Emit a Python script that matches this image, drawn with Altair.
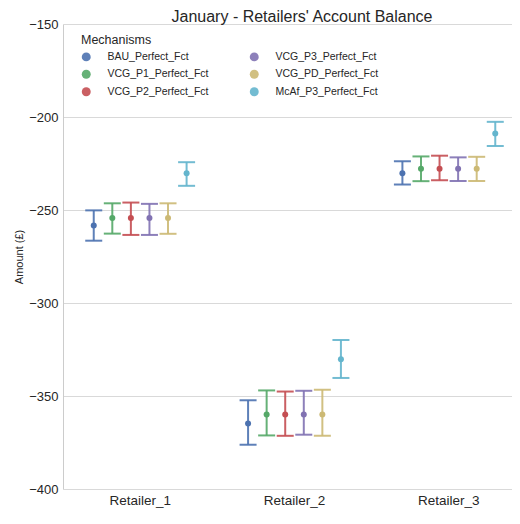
import altair as alt
import pandas as pd

retailers = ["Retailer_1", "Retailer_2", "Retailer_3"]
mechanisms = ["BAU_Perfect_Fct", "VCG_P1_Perfect_Fct", "VCG_P2_Perfect_Fct",
              "VCG_P3_Perfect_Fct", "VCG_PD_Perfect_Fct", "McAf_P3_Perfect_Fct"]
colors = ["#4C72B0", "#55A868", "#C44E52", "#8172B2", "#CCB974", "#64B5CD"]

mean_r1 = [-258.4, -254.3, -254.3, -254.3, -254.3, -230.2]
low_r1 = [-266.5, -262.7, -263.4, -263.4, -262.8, -237.0]
high_r1 = [-250.2, -246.4, -246.0, -246.7, -246.4, -224.3]

mean_r2 = [-364.8, -359.9, -359.9, -359.9, -359.9, -330.2]
low_r2 = [-376.2, -371.2, -371.4, -370.8, -371.4, -340.3]
high_r2 = [-352.3, -347.0, -347.6, -347.2, -346.7, -319.9]

mean_r3 = [-230.2, -227.8, -227.8, -227.8, -227.8, -208.9]
low_r3 = [-236.3, -234.5, -234.0, -234.4, -234.4, -215.6]
high_r3 = [-223.8, -221.2, -220.8, -221.7, -221.4, -202.6]

rows = []
for r, means, lows, highs in zip(retailers, [mean_r1, mean_r2, mean_r3],
                                 [low_r1, low_r2, low_r3], [high_r1, high_r2, high_r3]):
    for m, mu, lo, hi in zip(mechanisms, means, lows, highs):
        rows.append({"Retailer": r, "Mechanism": m, "mean": mu, "low": lo, "high": hi})
df = pd.DataFrame(rows)

x_enc = alt.X("Retailer:N", sort=retailers,
              scale=alt.Scale(paddingInner=0.278, paddingOuter=0.139, range=[0, 463]),
              axis=alt.Axis(title=None, labelAngle=0, ticks=False, labelFontSize=13.5,
                            labelPadding=4, domain=False, grid=False,
                            labelColor="#262626"))
xoff = alt.XOffset("Mechanism:N", sort=mechanisms,
                   scale=alt.Scale(domain=mechanisms, paddingInner=0, paddingOuter=0))
y_scale = alt.Scale(domain=[-400, -150], nice=False, zero=False)
y_axis = alt.Axis(title="Amount (£)", values=[-400, -350, -300, -250, -200, -150],
                  ticks=False, labelFontSize=13, labelPadding=5, titleFontSize=11,
                  titleFontWeight="normal", titlePadding=4, domainColor="#cccccc",
                  gridColor="#d9d9d9", labelColor="#262626", titleColor="#262626")
color_enc = alt.Color("Mechanism:N",
                      scale=alt.Scale(domain=mechanisms, range=colors),
                      legend=alt.Legend(title="Mechanisms", orient="none", legendX=18,
                                        legendY=10, columns=2, symbolType="circle",
                                        symbolSize=80, symbolStrokeWidth=0,
                                        labelFontSize=10.5, titleFontSize=12.5,
                                        titleFontWeight="normal", labelOffset=16,
                                        columnPadding=40, rowPadding=6.5,
                                        titlePadding=5, padding=0,
                                        labelColor="#262626", titleColor="#262626"))

base = alt.Chart(df).encode(x=x_enc, xOffset=xoff, color=color_enc)

rule = base.mark_rule(strokeWidth=2, opacity=0.9).encode(
    y=alt.Y("low:Q", scale=y_scale, axis=y_axis), y2="high:Q")
cap_lo = base.mark_tick(size=17, thickness=2, orient="horizontal", opacity=0.9).encode(
    y=alt.Y("low:Q", scale=y_scale))
cap_hi = base.mark_tick(size=17, thickness=2, orient="horizontal", opacity=0.9).encode(
    y=alt.Y("high:Q", scale=y_scale))
pts = base.mark_circle(size=36, opacity=1).encode(y=alt.Y("mean:Q", scale=y_scale))

chart = alt.layer(rule, cap_lo, cap_hi, pts).properties(
    width=504, height=502,
    autosize=alt.AutoSizeParams(type="fit", contains="padding"),
    padding={"left": 5, "top": 0, "right": 0, "bottom": 3},
    title=alt.TitleParams("January - Retailers' Account Balance", fontSize=16,
                          fontWeight="normal", offset=-6.5, color="#262626", dx=14.5),
).configure(font="Liberation Sans").configure_view(stroke=None)

chart.save("out.html", embed_options={"renderer": "svg", "actions": False})
